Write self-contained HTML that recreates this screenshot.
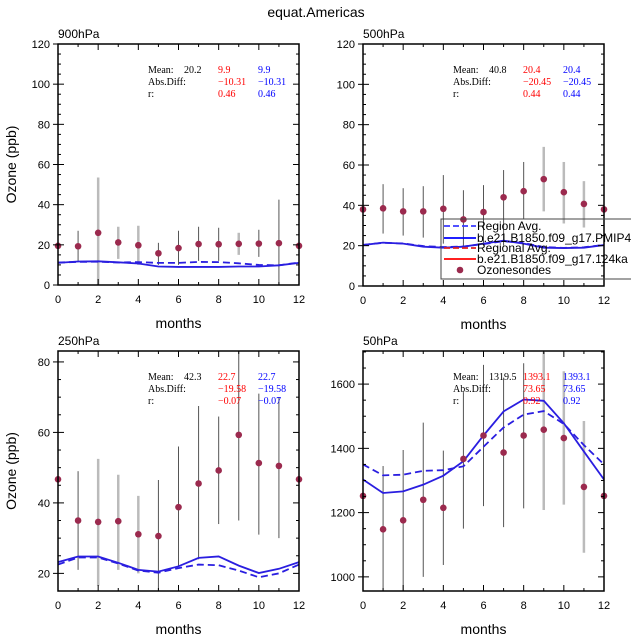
<!DOCTYPE html>
<html><head><meta charset="utf-8"><style>
body{margin:0;background:#fff;}
svg{display:block;font-family:"Liberation Sans",sans-serif;}
.st{font-family:"Liberation Serif",serif;font-size:10px;}
</style></head><body>
<svg id="c" width="631" height="639" viewBox="0 0 631 639">
<text x="316" y="17" text-anchor="middle" font-size="14">equat.Americas</text>
</svg>
<script>
const months=[0,1,2,3,4,5,6,7,8,9,10,11,12];
const p1Obs=[19.5,19.3,26,21.2,19.8,15.8,18.4,20.4,20.3,20.5,20.6,20.8,19.5];
const p1Lo=[null,12,0,13,10,10,10,12,12,15,14,0,null];
const p1Hi=[null,27,53.5,29,29.5,21,27,29,28.5,26,27.5,42.5,null];
const p1Solid=[11,11.7,11.8,11.3,10.7,9.2,9,9,9,9.2,9.2,9.8,11];
const p1Dash=[11.2,11.5,11.6,11.2,11.4,11,11,11.5,11.4,10.8,10,9.8,11.2];
const p2Obs=[38,38.5,37,37,38.3,33,36.7,44,47,53,46.5,40.7,38];
const p2Lo=[null,26,25,24,21,20,20,20,33,37,31,29,null];
const p2Hi=[null,50.5,48.5,49.5,55,47.5,50,57.5,61.5,69,61.5,52,null];
const p2Solid=[20.3,21.5,21,19.5,19,19.5,21,22.5,21,19,18.8,19,20.3];
const p2Dash=[20.4,21.4,21.1,19.8,19.3,19.6,20.8,22.2,21.3,19.3,18.9,19.2,20.4];
const p3Obs=[46.7,35,34.6,34.8,31.1,30.6,38.8,45.5,49.2,59.3,51.3,50.5,46.7];
const p3Lo=[null,21,16.5,21,20,15,22,24,34,35,31,30,null];
const p3Hi=[null,49,52.5,48,42,46.5,56,67.5,64.5,85,71,70,null];
const p3Solid=[23.2,24.8,24.8,23,21,20.5,22,24.4,24.8,22.2,20.1,21.3,23.2];
const p3Dash=[22.5,24.5,24.5,22.8,20.8,20.2,21.5,22.5,22.3,20.8,18.9,20,22.5];
const p4Obs=[1252,1148,1176,1240,1215,1367,1440,1387,1440,1458,1432,1280,1252];
const p4Lo=[null,955,955,1000,1037,1150,1220,1155,1213,1208,1225,1075,null];
const p4Hi=[null,1345,1395,1480,1393,1575,1660,1620,1665,1700,1640,1485,null];
const p4Solid=[1303,1261,1266,1287,1315,1360,1440,1515,1552,1548,1478,1390,1303];
const p4Dash=[1350,1316,1318,1330,1332,1344,1405,1465,1505,1516,1476,1410,1350];
const xTicks=[0,2,4,6,8,10,12];
const yTicks1=[0,20,40,60,80,100,120];
const yTicks3=[20,40,60,80];
const yTicks4=[1000,1200,1400,1600];
const stats1=["20.2","9.9","9.9","−10.31","−10.31","0.46","0.46"];
const stats2=["40.8","20.4","20.4","−20.45","−20.45","0.44","0.44"];
const stats3=["42.3","22.7","22.7","−19.58","−19.58","−0.07","−0.07"];
const stats4=["1319.5","1393.1","1393.1","73.65","73.65","0.92","0.92"];
const greyBars1=[2,3,4,9], greyBars2=[9,10,11], greyBars3=[2,3,4], greyBars4=[9,10,11];

const svg=document.getElementById('c');
const NS='http://www.w3.org/2000/svg';
function mk(t,a,parent){const e=document.createElementNS(NS,t);for(const k in a)e.setAttribute(k,a[k]);(parent||svg).appendChild(e);return e;}

function panel(name,L,R,T,B,ymin,ymax,yt,ymin2,obs,lo,hi,sol,dash,grey,stats,label,showYTitle,minorStep){
  const g=mk('g',{});
  
  
  const xs=m=>L+(R-L)*m/12;
  const ys=v=>B-(B-T)*(v-ymin)/(ymax-ymin);
  months.forEach((m,i)=>{ if(lo[i]==null)return;
    const a=Math.max(lo[i],ymin),b=Math.min(hi[i],ymax);
    const ln=mk('line',{x1:xs(m),x2:xs(m),y1:ys(a),y2:ys(b),stroke:grey.includes(m)?'#bbb':'#555','stroke-width':grey.includes(m)?2.5:1},g);
    
    
  });
  const pts=a=>a.map((v,i)=>xs(months[i])+','+ys(v)).join(' ');
  const d=mk('polyline',{points:pts(dash),fill:'none',stroke:'#2a1ee0','stroke-width':1.8,'stroke-dasharray':'7,4'},g);
  
  
  const s=mk('polyline',{points:pts(sol),fill:'none',stroke:'#2a1ee0','stroke-width':1.8},g);
  
  
  obs.forEach((v,i)=>{const c=mk('circle',{cx:xs(months[i]),cy:ys(v),r:3.3,fill:'#9b2a4e'},g);
    
    });
  mk('rect',{x:L,y:T,width:R-L,height:B-T,fill:'none',stroke:'#000','stroke-width':1.5},g);
  for(let m=0;m<=12;m++){const maj=m%2==0,len=maj?6:3;
    mk('line',{x1:xs(m),x2:xs(m),y1:B,y2:B-len,stroke:'#000'},g);
    mk('line',{x1:xs(m),x2:xs(m),y1:T,y2:T+len,stroke:'#000'},g);}
  xTicks.forEach(m=>{const t=mk('text',{x:xs(m),y:B+18,'text-anchor':'middle','font-size':11},g);t.textContent=m;
    });
  for(let v=Math.ceil(ymin/minorStep)*minorStep;v<=ymax;v+=minorStep){
    const maj=yt.includes(v),len=maj?6:3;
    mk('line',{x1:L,x2:L+len,y1:ys(v),y2:ys(v),stroke:'#000'},g);
    mk('line',{x1:R,x2:R-len,y1:ys(v),y2:ys(v),stroke:'#000'},g);
    if(maj){mk('line',{x1:L,x2:L-5,y1:ys(v),y2:ys(v),stroke:'#000'},g);}
  }
  yt.forEach(v=>{const t=mk('text',{x:L-8,y:ys(v)+4,'text-anchor':'end','font-size':11},g);t.textContent=v;
    });
  const lb=mk('text',{x:L,y:T-6,'font-size':12},g);lb.textContent=label;
  
  const xt=mk('text',{x:(L+R)/2,y:B+43,'text-anchor':'middle','font-size':14},g);xt.textContent='months';
  
  if(showYTitle){const yt2=mk('text',{x:0,y:0,'text-anchor':'middle','font-size':14,transform:`translate(16,${(T+B)/2}) rotate(-90)`},g);yt2.textContent='Ozone (ppb)';
    }
  const sx=L+90;
  const rows=[['Mean:',stats[0],stats[1],stats[2]],['Abs.Diff:','',stats[3],stats[4]],['r:','',stats[5],stats[6]]];
  rows.forEach((r,j)=>{const y=T+29+j*12;
    [[sx,r[0],'#000'],[sx+36,r[1],'#000'],[sx+70,r[2],'#f00'],[sx+110,r[3],'#00f']].forEach(([x,tx,col])=>{
      const t=mk('text',{x:x,y:y,fill:col,class:'st'},g);t.textContent=tx;
      });
  });
}
panel('panel-900hpa',58,299,44,285,0,120,yTicks1,0,p1Obs,p1Lo,p1Hi,p1Solid,p1Dash,greyBars1,stats1,'900hPa',true,5);
panel('panel-500hpa',363,604,44,286,0,120,yTicks1,0,p2Obs,p2Lo,p2Hi,p2Solid,p2Dash,greyBars2,stats2,'500hPa',false,5);
panel('panel-250hpa',58,299,351,591,15,83.1,yTicks3,0,p3Obs,p3Lo,p3Hi,p3Solid,p3Dash,greyBars3,stats3,'250hPa',true,5);
panel('panel-50hpa',363,604,351,591,956,1703,yTicks4,0,p4Obs,p4Lo,p4Hi,p4Solid,p4Dash,greyBars4,stats4,'50hPa',false,50);
const lg=mk('g',{});


mk('rect',{x:441,y:219,width:195,height:60,fill:'none',stroke:'#444','stroke-width':1},lg);
const items=[[230,'Region Avg.','#3a3aff','6,3'],[242,'b.e21.B1850.f09_g17.PMIP4-1','#0000ff',''],[252,'Regional Avg.','#e02020','6,3'],[263,'b.e21.B1850.f09_g17.124ka','#ff0000',''],[274,'Ozonesondes','','']];
items.forEach(([y,t,c,da])=>{
  if(c){const l=mk('line',{x1:444,x2:476,y1:y-4,y2:y-4,stroke:c,'stroke-width':1.8,'stroke-dasharray':da},lg);
    }
  else{const cc=mk('circle',{cx:460,cy:y-4,r:3.3,fill:'#9b2a4e'},lg);
    }
  const tx=mk('text',{x:477,y:y,'font-size':12},lg);tx.textContent=t;
  
});
</script>
</body></html>
